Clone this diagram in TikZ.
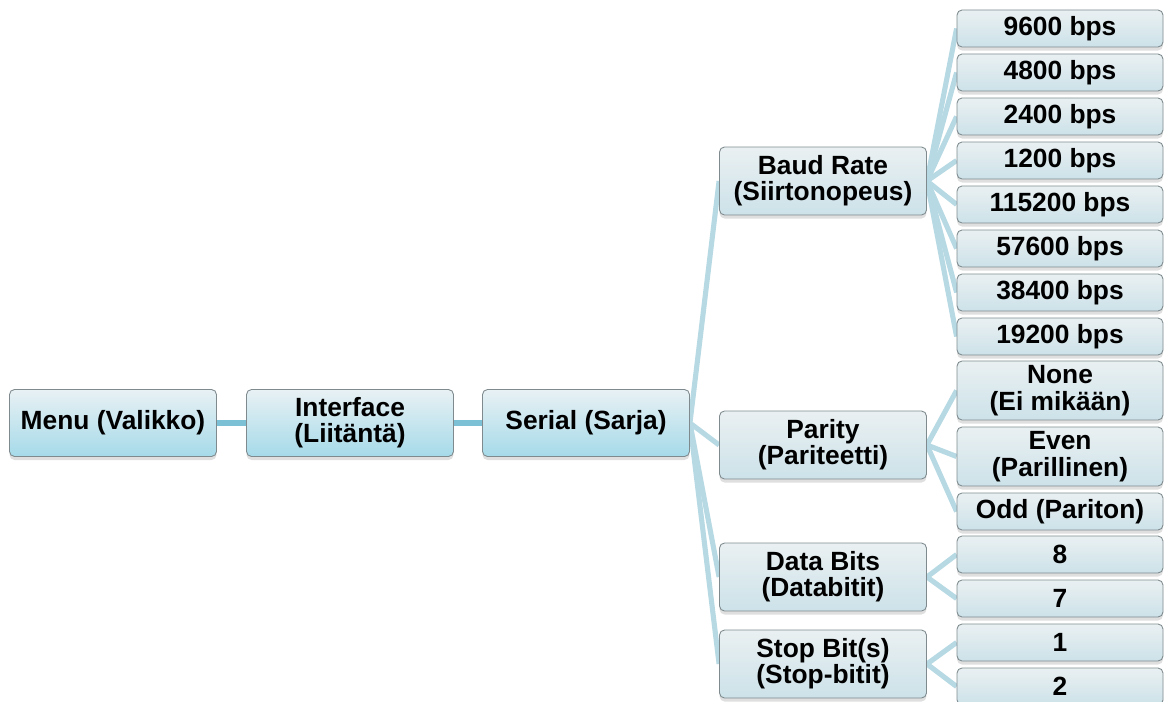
\documentclass[tikz,border=0pt]{standalone}
\usepackage{fontspec}
\setmainfont{Liberation Sans}
\usetikzlibrary{shadows,backgrounds}

\definecolor{rootTop}{HTML}{E8F1F4}
\definecolor{rootBottom}{HTML}{A6DAE9}
\definecolor{itemTop}{HTML}{EAF0F2}
\definecolor{itemBottom}{HTML}{CCE2E9}
\definecolor{boxEdge}{HTML}{7E8A8E}
\definecolor{mainLink}{HTML}{7CC0D6}
\definecolor{subLink}{HTML}{B6D9E3}

\tikzset{
  basebox/.style={draw=boxEdge, line width=0.5pt, rounded corners=0.1cm,
    align=center, inner sep=0pt, font=\bfseries\fontsize{15}{15}\selectfont,
    drop shadow={shadow xshift=0pt, shadow yshift=-2pt, opacity=0.25}},
  rootbox/.style={basebox, top color=rootTop, bottom color=rootBottom,
    minimum width=4.14cm, minimum height=1.34cm},
  itembox/.style={basebox, top color=itemTop, bottom color=itemBottom,
    minimum width=4.14cm, minimum height=1.36cm},
  leafbox/.style={basebox, top color=itemTop, bottom color=itemBottom,
    minimum width=4.12cm, minimum height=0.74cm},
  tallleaf/.style={leafbox, minimum height=1.18cm},
  mainline/.style={draw=mainLink, line width=3.4pt},
  subline/.style={draw=subLink, line width=2.9pt}
}

\begin{document}
\begin{tikzpicture}[x=0.02cm, y=-0.02cm]
  \clip (0,0) rectangle (1165,702);

  % Main chain
  \node[rootbox] (menu) at (113,423) {Menu (Valikko)};
  \node[rootbox] (iface) at (350,423) {Interface\\(Liitäntä)};
  \node[rootbox] (serial) at (586,423) {Serial (Sarja)};

  % Serial settings
  \node[itembox] (baud) at (823,181) {Baud Rate\\(Siirtonopeus)};
  \node[itembox] (parity) at (823,445) {Parity\\(Pariteetti)};
  \node[itembox] (data) at (823,577) {Data Bits\\(Databitit)};
  \node[itembox] (stop) at (823,664) {Stop Bit(s)\\(Stop-bitit)};

  % Baud rate values
  \foreach \rate [count=\i from 0] in {9600,4800,2400,1200,115200,57600,38400,19200}
    \node[leafbox] (b\i) at (1060,28.5+44*\i) {\rate{} bps};

  % Parity values
  \node[tallleaf] (pnone) at (1060,390.5) {None\\(Ei mikään)};
  \node[tallleaf] (peven) at (1060,456.5) {Even\\(Parillinen)};
  \node[leafbox] (podd) at (1060,511.5) {Odd (Pariton)};

  % Data bits values
  \node[leafbox] (d8) at (1060,554.5) {8};
  \node[leafbox] (d7) at (1060,598.5) {7};

  % Stop bit values
  \node[leafbox] (s1) at (1060,642.5) {1};
  \node[leafbox] (s2) at (1060,686.5) {2};

  % Connectors
  \begin{scope}[on background layer]
    \draw[mainline] (menu.east) -- (iface.west);
    \draw[mainline] (iface.east) -- (serial.west);
    \foreach \kid in {baud,parity,data,stop}
      \draw[subline] (serial.east) -- (\kid.west);
    \foreach \i in {0,...,7}
      \draw[subline] (baud.east) -- (b\i.west);
    \foreach \kid in {pnone,peven,podd}
      \draw[subline] (parity.east) -- (\kid.west);
    \foreach \kid in {d8,d7}
      \draw[subline] (data.east) -- (\kid.west);
    \foreach \kid in {s1,s2}
      \draw[subline] (stop.east) -- (\kid.west);
  \end{scope}
\end{tikzpicture}
\end{document}
